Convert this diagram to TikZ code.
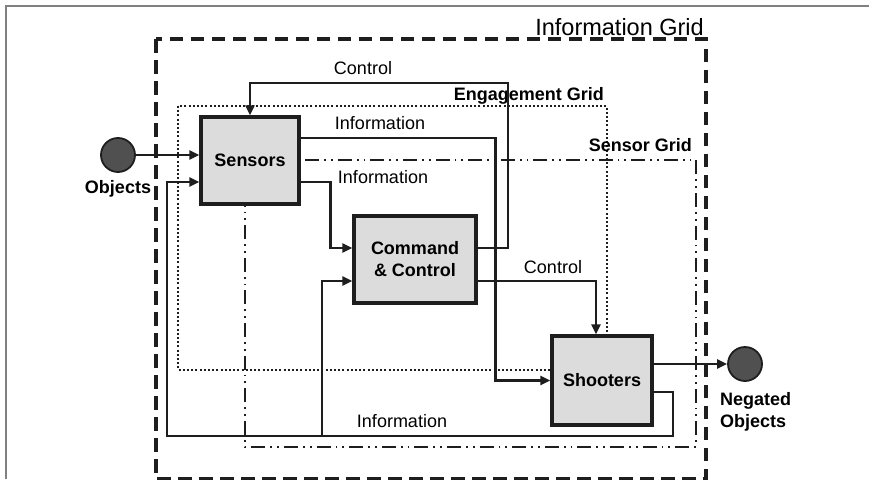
\documentclass[tikz,border=0pt]{standalone}
\usepackage{fontspec}
\setmainfont{Liberation Sans}
\usetikzlibrary{arrows.meta,calc}
\definecolor{ink}{HTML}{1E1E1E}
\definecolor{boxfill}{HTML}{DCDCDC}
\definecolor{entityfill}{HTML}{505050}
\definecolor{framegray}{HTML}{808080}
\pgfdeclarelayer{background}
\pgfsetlayers{background,main}

\begin{document}
\begin{tikzpicture}[x=1pt,y=-1pt,
  conn/.style={draw=ink, line width=2.6pt, -{Triangle[length=10pt,width=9pt]}},
  block/.style={draw=ink, line width=3.2pt, fill=boxfill, inner sep=0pt,
    font=\fontsize{18}{22}\selectfont\bfseries, align=center},
  entity/.style={circle, draw=ink, line width=1.8pt, fill=entityfill,
    minimum size=34pt, inner sep=0pt},
  entitylabel/.style={font=\fontsize{18}{22}\selectfont\bfseries, inner sep=0pt},
  flowlabel/.style={font=\fontsize{18}{22}\selectfont, inner sep=0pt, anchor=base},
  gridlabel/.style={font=\fontsize{18}{22}\selectfont\bfseries, inner sep=0pt, anchor=base east},
  infogrid/.style={draw=ink, line width=3.8pt, dash pattern=on 13.5pt off 7.5pt},
  enggrid/.style={draw=ink, line width=2.8pt, dash pattern=on 2pt off 2.2pt},
  sensgrid/.style={draw=ink, line width=1.8pt,
    dash pattern=on 14pt off 5pt on 1.8pt off 5pt on 1.8pt off 5pt},
]
\useasboundingbox (0,0) rectangle (869,479);

% page frame
\draw[framegray, line width=1.6pt] (869,6) -- (6,6) -- (6,479);

% functional blocks
\node[block, minimum width=98pt, minimum height=87pt] (sensors) at (250,160.5) {Sensors};
\node[block, minimum width=122pt, minimum height=87pt] (cc) at (415,259.5) {Command\\\& Control};
\node[block, minimum width=100pt, minimum height=89pt] (shooters) at (602,380.5) {Shooters};

% objects entering and leaving
\node[entity] (obj) at (118,155) {};
\node[entity] (neg) at (745,364) {};
\node[entitylabel, anchor=base] (objlbl) at (118,193.5) {Objects};
\node[entitylabel, anchor=west, align=left] (neglbl) at (720,412) {Negated\\Objects};

% nested grids
\begin{pgfonlayer}{background}
  \draw[infogrid] (156,39) rectangle (706,479);
  \draw[enggrid] (178,106) rectangle (607,370);
  \draw[sensgrid] (245,160) rectangle (696,447);
\end{pgfonlayer}
\node[font=\fontsize{23.5}{27}\selectfont, inner sep=0pt, anchor=base east] (iglbl) at (704,35) {Information Grid};
\node[gridlabel] (eglbl) at (604,100) {Engagement Grid};
\node[gridlabel] (sglbl) at (692,151) {Sensor Grid};

% flows
\draw[conn] (obj) -- (obj -| sensors.west);
\draw[conn] ($(sensors.east)+(0,-22.5)$) -| ($(shooters.west)+(-55,0)$) -- (shooters.west);
\draw[conn] ($(sensors.east)+(0,21.5)$) -| ($(cc.west)+(-22,-11.5)$) -- ($(cc.west)+(0,-11.5)$);
\draw[conn] ($(cc.east)+(0,-11.5)$) -| (508,83) -| (sensors.north);
\draw[conn] ($(cc.east)+(0,21.5)$) -| ($(shooters.north)+(-6,0)$);
\draw[conn] (neg -| shooters.east) -- (neg);
\draw[conn] ($(shooters.east)+(0,11.5)$) -| (673,436) -| (167,182) -- ($(sensors.west)+(0,21.5)$);
\coordinate (branch) at (322,436);
\draw[conn] (branch) |- ($(cc.west)+(0,21.5)$);

% flow labels
\node[flowlabel] (l1) at (363,74.5) {Control};
\node[flowlabel] (l2) at (380,129.5) {Information};
\node[flowlabel] (l3) at (383,183.5) {Information};
\node[flowlabel] (l4) at (553,273.5) {Control};
\node[flowlabel] (l5) at (402,427.5) {Information};
\end{tikzpicture}
\end{document}
